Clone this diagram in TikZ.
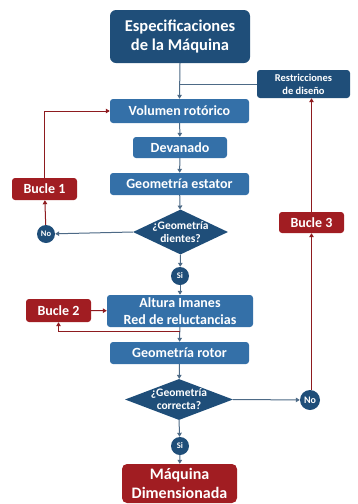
\documentclass[tikz,border=0pt]{standalone}
\usepackage{fontspec}
\setmainfont{Carlito}
\usetikzlibrary{shapes.geometric,arrows.meta}
\definecolor{dkblue}{HTML}{1F4E79}
\definecolor{mdblue}{HTML}{3470A8}
\definecolor{dkred}{HTML}{A11D22}
\definecolor{lnblue}{HTML}{4D6A86}
\definecolor{lnred}{HTML}{8E1B1F}
\tikzset{
  box/.style={rectangle, rounded corners=3pt, inner sep=0pt, text=white, align=center},
  fmid/.style={font=\bfseries\fontsize{14}{17}\selectfont},
  darkbox/.style={box, fill=dkblue},
  midbox/.style={box, fill=mdblue, fmid},
  redbox/.style={box, fill=dkred, fmid},
  dia/.style={diamond, fill=dkblue, inner sep=0pt},
  dtext/.style={text=white, font=\bfseries\fontsize{11.5}{13}\selectfont, align=center, inner sep=0pt},
  circ/.style={circle, fill=dkblue, inner sep=0pt, minimum size=18pt, text=white, font=\bfseries\fontsize{8.5}{9}\selectfont},
  blarrow/.style={draw=lnblue, line width=1pt, -{Triangle[length=4pt,width=4.5pt]}},
  bline/.style={draw=lnblue, line width=1pt},
  rdarrow/.style={draw=lnred, line width=1pt, -{Triangle[length=4pt,width=4.5pt]}},
}
\begin{document}
\begin{tikzpicture}[x=1pt,y=-1pt]
\useasboundingbox (0,0) rectangle (358,504);
\node[darkbox, rounded corners=6pt, minimum width=140pt, minimum height=53pt, font=\bfseries\fontsize{16.5}{19}\selectfont] (spec) at (180,36.5) {Especificaciones\\de la Máquina};
\node[darkbox, minimum width=93pt, minimum height=28pt, font=\bfseries\fontsize{10.5}{13}\selectfont] (restr) at (303.5,84) {Restricciones\\de diseño};
\node[midbox, minimum width=139pt, minimum height=24pt] (vol) at (179.5,111) {Volumen rotórico};
\node[midbox, minimum width=94pt, minimum height=21pt] (dev) at (180,147.5) {Devanado};
\node[midbox, minimum width=139pt, minimum height=22pt] (est) at (179.5,184) {Geometría estator};
\node[dia, minimum width=95pt, minimum height=45pt] (d1) at (180.5,232) {};
\node[dtext] (d1t) at (d1) {¿Geometría\\dientes?};
\node[circ] (no1) at (46,234) {No};
\node[redbox, minimum width=65pt, minimum height=22pt] (b1) at (44.5,189) {Bucle 1};
\node[circ] (si1) at (180,276) {Si};
\node[midbox, minimum width=146pt, minimum height=32pt] (alt) at (180,311) {Altura Imanes\\Red de reluctancias};
\node[redbox, minimum width=65pt, minimum height=23pt] (b2) at (58.5,310.5) {Bucle 2};
\node[midbox, minimum width=139pt, minimum height=22pt] (rot) at (179.5,353) {Geometría rotor};
\node[dia, minimum width=108pt, minimum height=41pt] (d2) at (179,399.5) {};
\node[dtext] (d2t) at (d2) {¿Geometría\\correcta?};
\node[circ, minimum size=20pt, font=\bfseries\fontsize{10}{11}\selectfont] (no2) at (310,400) {No};
\node[redbox, minimum width=65pt, minimum height=21pt] (b3) at (311.5,222.5) {Bucle 3};
\node[circ] (si2) at (180,446) {Si};
\node[redbox, rounded corners=5pt, minimum width=115pt, minimum height=39pt, font=\bfseries\fontsize{16}{19}\selectfont] (maq) at (179.5,483.5) {Máquina\\Dimensionada};
\coordinate (j1) at (spec.south |- restr.west);
\coordinate (j2) at (180,331);
% blue connectors
\draw[blarrow] (spec.south) -- (vol.north);
\draw[bline] (restr.west) -- (j1);
\draw[blarrow] (vol) -- (dev);
\draw[blarrow] (dev) -- (est);
\draw[blarrow] (est) -- (d1);
\draw[blarrow] (d1.south) -- (si1);
\draw[blarrow] (si1) -- (alt);
\draw[blarrow] (alt) -- (rot);
\draw[blarrow] (rot) -- (d2);
\draw[blarrow] (d2.south) -- (si2);
\draw[blarrow] (si2) -- (maq);
\draw[blarrow] (d1.west) -- (no1);
\draw[blarrow] (d2.east) -- (no2);
% red connectors
\draw[rdarrow] (no1) -- (b1);
\draw[rdarrow] (b1.north) |- (vol.west);
\draw[rdarrow] (b2) -- (alt);
\draw[rdarrow] (j2) -| (b2.south);
\draw[rdarrow] (no2.north -| b3) -- (b3.south);
\draw[rdarrow] (b3.north) -- (b3.north |- restr.south);
\end{tikzpicture}
\end{document}
